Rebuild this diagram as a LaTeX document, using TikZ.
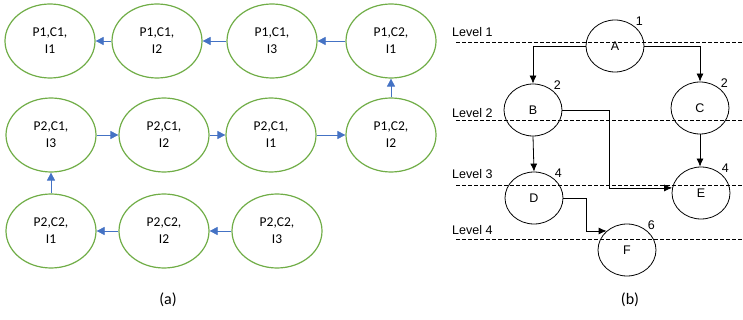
\documentclass[tikz,border=0pt]{standalone}
\usepackage{fontspec}
\setmainfont{Carlito}
\newfontfamily\arialfont{Liberation Sans}
\usepackage{xcolor}
\usetikzlibrary{shapes.geometric,arrows.meta,positioning}
\definecolor{stategreen}{HTML}{70AD47}
\definecolor{flowblue}{HTML}{4472C4}

\begin{document}
\begin{tikzpicture}[x=1pt,y=-1pt,
	state/.style={ellipse,draw=stategreen,line width=1.2pt,minimum width=90pt,minimum height=74pt,
		inner sep=0pt,align=center,font=\fontsize{13.5}{17}\selectfont},
	flow/.style={-{Triangle[length=8pt,width=8pt]},flowblue,line width=0.7pt},
	task/.style={ellipse,draw,line width=0.8pt,minimum width=58pt,minimum height=52pt,inner sep=0pt,
		font=\arialfont\fontsize{12.5}{14}\selectfont,label={[inner sep=1pt,font=\arialfont\fontsize{12.5}{14}\selectfont]45:#1}},
	link/.style={-{Latex[length=8pt,width=7pt]},line width=0.8pt},
	level/.style={dash pattern=on 3.5pt off 2.5pt,line width=0.6pt},
	lvltext/.style={font=\arialfont\fontsize{12.5}{14}\selectfont,anchor=west,inner sep=0pt}]
	\useasboundingbox (0,0) rectangle (743,320);
	% (a) chain of states
	\node[state] (p1c1i1) at (50,41) {P1,C1,\\I1};
	\node[state] (p1c1i2) at (157,41) {P1,C1,\\I2};
	\node[state] (p1c1i3) at (272,41) {P1,C1,\\I3};
	\node[state] (p1c2i1) at (391,41) {P1,C2,\\I1};
	\node[state] (p2c1i3) at (51,135) {P2,C1,\\I3};
	\node[state] (p2c1i2) at (164,135) {P2,C1,\\I2};
	\node[state] (p2c1i1) at (271,135) {P2,C1,\\I1};
	\node[state] (p1c2i2) at (391,135) {P1,C2,\\I2};
	\node[state] (p2c2i1) at (51,231) {P2,C2,\\I1};
	\node[state] (p2c2i2) at (164,231) {P2,C2,\\I2};
	\node[state] (p2c2i3) at (277,231) {P2,C2,\\I3};
	\draw[flow] (p1c1i2) -- (p1c1i1);
	\draw[flow] (p1c1i3) -- (p1c1i2);
	\draw[flow] (p1c2i1) -- (p1c1i3);
	\draw[flow] (p1c2i2) -- (p1c2i1);
	\draw[flow] (p2c1i3) -- (p2c1i2);
	\draw[flow] (p2c1i2) -- (p2c1i1);
	\draw[flow] (p2c1i1) -- (p1c2i2);
	\draw[flow] (p2c2i1) -- (p2c1i3);
	\draw[flow] (p2c2i2) -- (p2c2i1);
	\draw[flow] (p2c2i3) -- (p2c2i2);
	\node[font=\fontsize{16}{18}\selectfont] (capa) at (168,300) {(a)};
	% (b) levels
	\foreach \y/\lv/\ly in {42/1/32,120/2/113,185/3/174,239/4/230}{
		\draw[level] (456,\y) -- (743,\y);
		\node[lvltext] (lvl\lv) at (452,\ly) {Level \lv};
	}
	\node[task=1] (A) at (615,46) {A};
	\node[task=2] (B) at (533,110) {B};
	\node[task=2] (C) at (700,108) {C};
	\node[task=4] (D) at (534,198) {D};
	\node[task=4] (E) at (701,193) {E};
	\node[task=6] (F) at (627,250) {F};
	\draw[link] (A.west) -| (B.north);
	\draw[link] (A.east) -| (C.north);
	\draw[link] (B.south) -- (D.north);
	\draw[link] (C.south) -- (C.south |- E.north);
	\draw[link] (B.east) -- ++(47,0) |- (E.170);
	\draw[link] (D.east) -- ++(23,0) |- (F.137);
	\node[font=\fontsize{16}{18}\selectfont] (capb) at (630,300) {(b)};
\end{tikzpicture}
\end{document}
